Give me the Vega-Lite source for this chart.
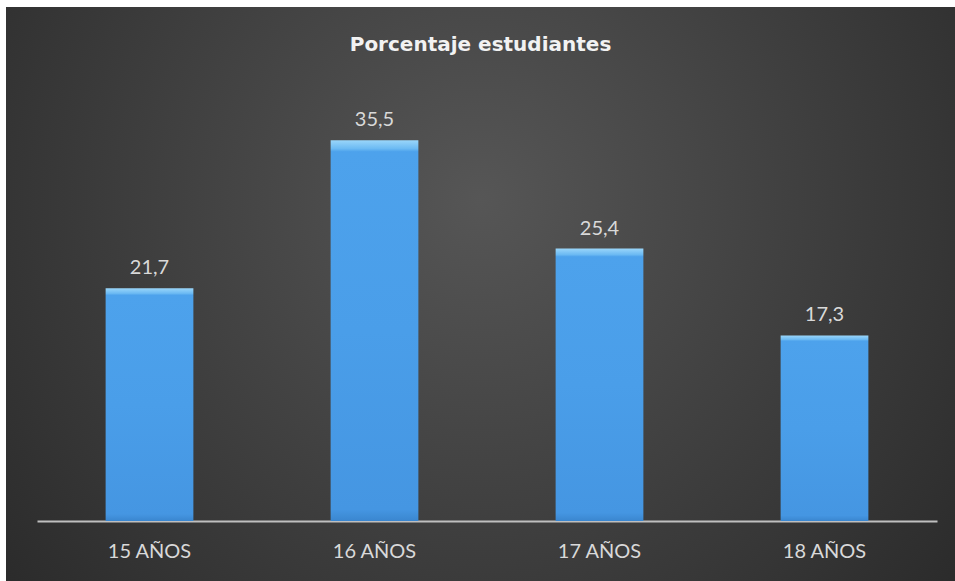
{
  "$schema": "https://vega.github.io/schema/vega-lite/v6.json",
  "width": 949,
  "height": 574,
  "autosize": {"type": "none"},
  "padding": {"left": 6, "top": 7, "right": 0, "bottom": 0},
  "background": "white",
  "title": {
    "text": "Porcentaje estudiantes",
    "font": "DejaVu Sans",
    "fontSize": 20,
    "fontWeight": "bold",
    "color": "#f2f2f2",
    "anchor": "middle",
    "frame": "group",
    "offset": -64,
    "baseline": "alphabetic"
  },
  "data": {
    "values": [
      {"edad": "15 AÑOS", "porcentaje": 21.7},
      {"edad": "16 AÑOS", "porcentaje": 35.5},
      {"edad": "17 AÑOS", "porcentaje": 25.4},
      {"edad": "18 AÑOS", "porcentaje": 17.3}
    ]
  },
  "encoding": {
    "x": {
      "field": "edad",
      "type": "nominal",
      "sort": null,
      "scale": {"range": [31, 931], "paddingInner": 0.61, "paddingOuter": 0.305},
      "axis": {
        "title": null,
        "orient": "bottom",
        "offset": -60,
        "domainColor": "#bfbfbf",
        "domainWidth": 2,
        "ticks": false,
        "grid": false,
        "labelColor": "#d9d9d9",
        "labelFont": "Lato",
        "labelFontSize": 20,
        "labelPadding": 20,
        "labelAngle": 0
      }
    },
    "y": {
      "field": "porcentaje",
      "type": "quantitative",
      "scale": {"domain": [0, 40], "range": [514, 85]},
      "axis": null
    }
  },
  "layer": [
    {
      "mark": {
        "type": "bar",
        "color": {
          "gradient": "linear",
          "x1": 0, "y1": 0, "x2": 0, "y2": 1,
          "stops": [
            {"offset": 0, "color": "#9ad6fa"},
            {"offset": 0.022, "color": "#6cbaf3"},
            {"offset": 0.03, "color": "#4da2ec"},
            {"offset": 0.5, "color": "#4a9ee9"},
            {"offset": 0.97, "color": "#4596e2"},
            {"offset": 1, "color": "#3a86cf"}
          ]
        }
      }
    },
    {
      "mark": {
        "type": "text",
        "baseline": "alphabetic",
        "dy": -14,
        "font": "Lato",
        "fontSize": 20,
        "color": "#d9d9d9"
      },
      "encoding": {
        "text": {"field": "porcentaje", "type": "quantitative", "format": ".1f"}
      }
    }
  ],
  "config": {
    "locale": {
      "number": {"decimal": ",", "thousands": ".", "grouping": [3], "currency": ["", " €"]}
    },
    "view": {
      "stroke": null,
      "fill": {
        "gradient": "radial",
        "x1": 0.5, "y1": 0.4, "r1": 0,
        "x2": 0.5, "y2": 0.4, "r2": 0.75,
        "stops": [
          {"offset": 0, "color": "#565656"},
          {"offset": 1, "color": "#242424"}
        ]
      }
    }
  }
}
